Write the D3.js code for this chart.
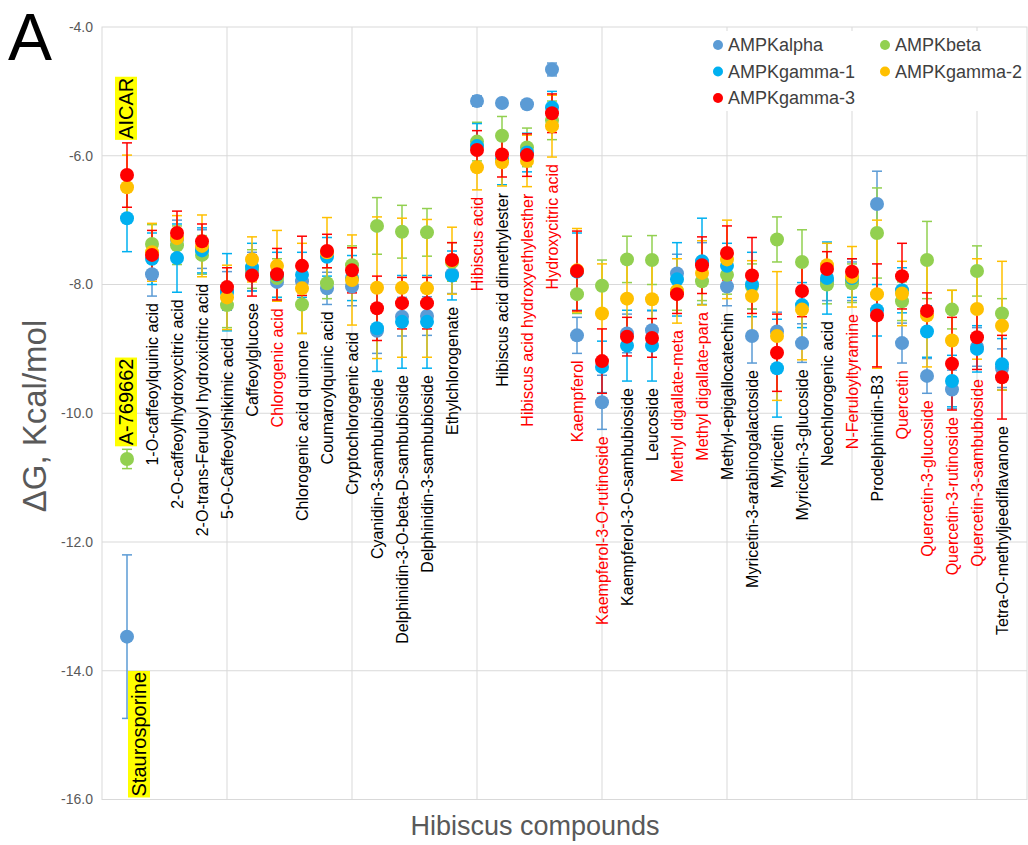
<!DOCTYPE html>
<html>
<head>
<meta charset="utf-8">
<script src="https://cdn.jsdelivr.net/npm/d3@7"></script>
<style>
  body { margin: 0; background: #fff; }
  text { font-family: "Liberation Sans", Arial, sans-serif; }
</style>
</head>
<body>
<div id="chart"></div>
<script>
// categories: position 1 holds the three controls
const compounds = ["",
  "1-O-caffeoylquinic acid", "2-O-caffeoylhydroxycitric acid", "2-O-trans-Feruloyl hydroxicitric acid",
  "5-O-Caffeoylshikimic acid", "Caffeoylglucose", "Chlorogenic acid", "Chlorogenic acid quinone",
  "Coumaroylquinic acid", "Cryptochlorogenic acid", "Cyanidin-3-sambubioside",
  "Delphinidin-3-O-beta-D-sambubioside", "Delphinidin-3-sambubioside", "Ethylchlorogenate",
  "Hibiscus acid", "Hibiscus acid dimethylester", "Hibiscus acid hydroxyethylesther", "Hydroxycitric acid",
  "Kaempferol", "Kaempferol-3-O-rutinoside", "Kaempferol-3-O-sambubioside", "Leucoside",
  "Methyl digallate-meta", "Methyl digallate-para", "Methyl-epigallocatechin",
  "Myricetin-3-arabinogalactoside", "Myricetin", "Myricetin-3-glucoside", "Neochlorogenic acid",
  "N-Feruloyltyramine", "Prodelphinidin-B3", "Quercetin", "Quercetin-3-glucoside",
  "Quercetin-3-rutinoside", "Quercetin-3-sambubioside", "Tetra-O-methyljeediflavanone"];

const redCompounds = ["Chlorogenic acid", "Hibiscus acid", "Hibiscus acid hydroxyethylesther",
  "Hydroxycitric acid", "Kaempferol", "Kaempferol-3-O-rutinoside", "Methyl digallate-meta",
  "Methyl digallate-para", "N-Feruloyltyramine", "Quercetin", "Quercetin-3-glucoside",
  "Quercetin-3-rutinoside", "Quercetin-3-sambubioside"];

// controls (series index they belong to)
const controls = [
  { name: "AICAR", series: 4, side: "above" },
  { name: "A-769662", series: 1, side: "above" },
  { name: "Staurosporine", series: 0, side: "bottom" }
];

const seriesNames = ["AMPKalpha", "AMPKbeta", "AMPKgamma-1", "AMPKgamma-2", "AMPKgamma-3"];
const seriesColors = ["#5b9bd5", "#92d050", "#00b0f0", "#ffc000", "#ff0000"];

const alphaVal = [-13.47, -7.84, -7.30, -7.45, -8.10, -7.80, -7.96, -7.95, -8.06, -8.03, -8.72, -8.50, -8.49, -7.84,
  -5.15, -5.18, -5.20, -4.66, -8.79, -9.83, -8.76, -8.71, -7.83, -7.65, -8.03, -8.80, -8.73, -8.91, -7.95,
  -7.95, -6.75, -8.91, -9.42, -9.63, -8.97, -9.30];
const alphaErr = [1.27, 0.34, 0.30, 0.30, 0.30, 0.30, 0.30, 0.30, 0.25, 0.30, 0.35, 0.30, 0.30, 0.30,
  0.08, 0.05, 0.06, 0.10, 0.28, 0.42, 0.30, 0.30, 0.30, 0.30, 0.30, 0.42, 0.30, 0.30, 0.30,
  0.30, 0.51, 0.31, 0.27, 0.30, 0.30, 0.30];

const betaVal = [-10.71, -7.37, -7.39, -7.54, -8.32, -7.76, -7.90, -8.31, -7.98, -7.70, -7.09, -7.18, -7.19, -7.65,
  -5.78, -5.69, -5.87, -5.45, -8.15, -8.02, -7.61, -7.62, -8.10, -7.95, -7.85, -8.03, -7.30, -7.65, -8.00,
  -7.98, -7.20, -8.26, -7.62, -8.39, -7.79, -8.45];
const betaErr = [0.15, 0.30, 0.30, 0.30, 0.35, 0.30, 0.30, 0.45, 0.24, 0.30, 0.44, 0.41, 0.37, 0.30,
  0.30, 0.30, 0.30, 0.30, 0.30, 0.40, 0.36, 0.38, 0.30, 0.30, 0.30, 0.35, 0.35, 0.50, 0.30,
  0.30, 0.70, 0.30, 0.60, 0.30, 0.39, 0.23];

const gamma1Val = [-6.97, -7.60, -7.59, -7.47, -8.12, -7.73, -7.85, -7.85, -7.57, -7.90, -8.68, -8.58, -8.58, -7.86,
  -5.85, -6.05, -5.95, -5.25, -7.80, -9.28, -8.95, -8.95, -7.92, -7.64, -7.71, -8.00, -9.30, -8.32, -7.90,
  -7.90, -8.40, -8.09, -8.73, -9.50, -9.00, -9.24];
const gamma1Err = [0.52, 0.40, 0.53, 0.35, 0.60, 0.37, 0.35, 0.35, 0.30, 0.35, 0.67, 0.72, 0.72, 0.38,
  0.35, 0.40, 0.30, 0.25, 0.60, 0.40, 0.55, 0.55, 0.57, 0.67, 0.35, 0.50, 0.76, 0.35, 0.56,
  0.30, 0.40, 0.35, 0.40, 0.40, 0.36, 0.40];

const gamma2Val = [-6.49, -7.50, -7.28, -7.40, -8.20, -7.61, -7.71, -8.06, -7.50, -7.93, -8.05, -8.05, -8.06, -7.63,
  -6.18, -6.10, -6.08, -5.54, -7.78, -8.45, -8.22, -8.23, -8.10, -7.82, -7.61, -8.18, -8.80, -8.39, -7.70,
  -7.88, -8.15, -8.14, -8.48, -8.87, -8.38, -8.64];
const gamma2Err = [0.50, 0.45, 0.35, 0.48, 0.50, 0.35, 0.55, 0.70, 0.54, 0.70, 1.10, 1.08, 1.07, 0.52,
  0.35, 0.37, 0.40, 0.48, 0.65, 0.77, 0.60, 0.60, 0.50, 0.50, 0.61, 0.55, 1.00, 0.78, 0.34,
  0.47, 1.15, 0.50, 0.80, 0.78, 0.78, 1.00];

const gamma3Val = [-6.30, -7.54, -7.20, -7.33, -8.04, -7.86, -7.84, -7.71, -7.48, -7.78, -8.37, -8.29, -8.29, -7.62,
  -5.91, -5.98, -5.99, -5.34, -7.79, -9.19, -8.81, -8.83, -8.15, -7.70, -7.51, -7.86, -9.06, -8.10, -7.76,
  -7.80, -8.48, -7.87, -8.41, -9.23, -8.82, -9.44];
const gamma3Err = [0.50, 0.38, 0.34, 0.27, 0.30, 0.32, 0.40, 0.46, 0.26, 0.35, 0.50, 0.40, 0.40, 0.27,
  0.30, 0.35, 0.33, 0.30, 0.62, 0.50, 0.30, 0.30, 0.30, 0.44, 0.42, 0.59, 0.60, 0.40, 0.27,
  0.20, 0.80, 0.51, 0.28, 0.72, 0.50, 0.65];

const yTicks = [-4, -6, -8, -10, -12, -14, -16];
const xGrid = [5, 10, 15, 20, 25, 30, 35];

const seriesVals = [alphaVal, betaVal, gamma1Val, gamma2Val, gamma3Val];
const seriesErrs = [alphaErr, betaErr, gamma1Err, gamma2Err, gamma3Err];

const width = 1028, height = 845;
const svg = d3.select("#chart").append("svg")
  .attr("width", width).attr("height", height)
  .style("background", "#fff");

const x = d3.scaleLinear().domain([0, 37]).range([102, 1027]);
const y = d3.scaleLinear().domain([-16, -4]).range([799.5, 27]);

const series = seriesNames.map((name, i) => ({
  name, color: seriesColors[i],
  pts: compounds.map((c, j) => ({ x: j + 1, v: seriesVals[i][j], e: seriesErrs[i][j] }))
}));

// gridlines and frame
svg.append("g").selectAll("line").data(yTicks.slice(1, -1)).enter().append("line")
  .attr("x1", x(0)).attr("x2", x(37))
  .attr("y1", d => y(d)).attr("y2", d => y(d))
  .attr("stroke", "#d9d9d9").attr("stroke-width", 1);
svg.append("g").selectAll("line").data(xGrid).enter().append("line")
  .attr("x1", d => x(d)).attr("x2", d => x(d))
  .attr("y1", y(-4)).attr("y2", y(-16))
  .attr("stroke", "#d9d9d9").attr("stroke-width", 1);
svg.append("rect")
  .attr("x", x(0)).attr("y", y(-4))
  .attr("width", x(37) - x(0)).attr("height", y(-16) - y(-4))
  .attr("fill", "none").attr("stroke", "#d9d9d9");

// y axis
const yAxis = svg.append("g")
  .attr("transform", `translate(${x(0)},0)`)
  .call(d3.axisLeft(y).tickValues(yTicks).tickSize(0).tickPadding(9).tickFormat(d => d.toFixed(1)));
yAxis.select(".domain").remove();
yAxis.selectAll("text").attr("fill", "#595959").style("font-size", "14px");

svg.append("text")
  .attr("transform", `translate(46,416) rotate(-90)`)
  .attr("text-anchor", "middle")
  .attr("fill", "#595959")
  .style("font-family", "'Liberation Sans Narrow', 'Liberation Sans', sans-serif")
  .style("font-size", "33px")
  .text("\u0394G, Kcal/mol");

svg.append("text")
  .attr("x", 535).attr("y", 835)
  .attr("text-anchor", "middle")
  .attr("fill", "#595959")
  .style("font-size", "27px")
  .text("Hibiscus compounds");

svg.append("text")
  .attr("x", 8).attr("y", 60)
  .style("font-size", "66px")
  .attr("fill", "#000")
  .text("A");

// error bars
const eb = svg.append("g");
series.forEach(s => {
  const g = eb.append("g").attr("stroke", s.color).attr("stroke-width", 1.5);
  g.selectAll(".v").data(s.pts).enter().append("line")
    .attr("x1", d => x(d.x)).attr("x2", d => x(d.x))
    .attr("y1", d => y(d.v + d.e)).attr("y2", d => y(d.v - d.e));
  g.selectAll(".t").data(s.pts).enter().append("line")
    .attr("x1", d => x(d.x) - 5).attr("x2", d => x(d.x) + 5)
    .attr("y1", d => y(d.v + d.e)).attr("y2", d => y(d.v + d.e));
  g.selectAll(".b").data(s.pts).enter().append("line")
    .attr("x1", d => x(d.x) - 5).attr("x2", d => x(d.x) + 5)
    .attr("y1", d => y(d.v - d.e)).attr("y2", d => y(d.v - d.e));
});

// markers
series.forEach(s => {
  svg.append("g").selectAll("circle").data(s.pts).enter().append("circle")
    .attr("cx", d => x(d.x)).attr("cy", d => y(d.v))
    .attr("r", 7).attr("fill", s.color);
});

// compound labels, hung below the lowest error bar
const labels = svg.append("g");
compounds.forEach((c, j) => {
  if (!c) return;
  const low = d3.min(series, s => s.pts[j].v - s.pts[j].e);
  labels.append("text")
    .attr("transform", `translate(${x(j + 1)},${y(low) + 7}) rotate(-90)`)
    .attr("text-anchor", "end")
    .attr("dy", "0.35em")
    .attr("fill", redCompounds.includes(c) ? "#ff0000" : "#000")
    .style("font-size", "16px")
    .text(c);
});

// control labels with yellow highlight
controls.forEach(c => {
  const p = series[c.series].pts[0];
  let tx, ty;
  if (c.side === "above") { tx = x(1) - 1; ty = y(p.v + p.e) - 4; }
  else { tx = x(1) + 12; ty = y(-16) - 3; }
  const g = labels.append("g").attr("transform", `translate(${tx},${ty}) rotate(-90)`);
  const t = g.append("text")
    .attr("text-anchor", "start")
    .attr("dy", "0.35em")
    .attr("fill", "#000")
    .style("font-size", "20px")
    .text(c.name);
  const bb = t.node().getBBox();
  g.insert("rect", "text")
    .attr("x", bb.x - 1).attr("y", bb.y)
    .attr("width", bb.width + 2).attr("height", bb.height)
    .attr("fill", "#ffff00");
});

// legend
const legend = svg.append("g");
legend.append("rect")
  .attr("x", 705).attr("y", 31).attr("width", 318).attr("height", 80)
  .attr("fill", "#fff");
seriesNames.forEach((name, i) => {
  const lx = i % 2 === 0 ? 718 : 885;
  const ly = 45 + Math.floor(i / 2) * 26.5;
  legend.append("circle").attr("cx", lx).attr("cy", ly).attr("r", 5).attr("fill", seriesColors[i]);
  legend.append("text")
    .attr("x", lx + 10).attr("y", ly).attr("dy", "0.35em")
    .attr("fill", "#404040")
    .style("font-size", "18px")
    .text(name);
});
</script>
</body>
</html>
